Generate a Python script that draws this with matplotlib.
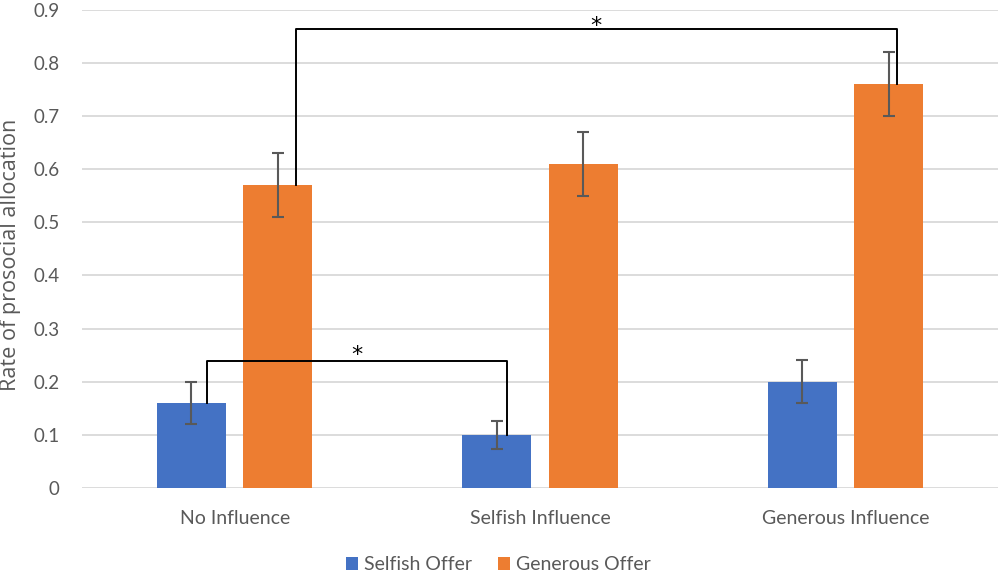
import numpy as np
import matplotlib
matplotlib.use("Agg")
import matplotlib.pyplot as plt

plt.rcParams['font.family'] = ['Lato', 'DejaVu Sans']

groups = ['No Influence', 'Selfish Influence', 'Generous Influence']
selfish = [0.16, 0.10, 0.20]
selfish_err = [0.04, 0.026, 0.04]
generous = [0.57, 0.61, 0.76]
generous_err = [0.06, 0.06, 0.06]

blue = '#4472C4'
orange = '#ED7D31'
grey = '#595959'

fig = plt.figure(figsize=(10, 5.74), dpi=100)
ax = fig.add_axes([0.082, 0.150, 0.916, 0.8326])

x = np.arange(len(groups))
w = 0.226
off = 0.1416

ax.bar(x - off, selfish, w, color=blue, label='Selfish Offer', zorder=2)
ax.bar(x + off, generous, w, color=orange, label='Generous Offer', zorder=2)
ax.errorbar(x - off, selfish, yerr=selfish_err, fmt='none', ecolor=grey,
            elinewidth=1.5, capsize=4.5, capthick=1.5, zorder=3)
ax.errorbar(x + off, generous, yerr=generous_err, fmt='none', ecolor=grey,
            elinewidth=1.5, capsize=4.5, capthick=1.5, zorder=3)

# significance brackets
px = 1 / 305.3
xl, xr = 0 - off + 16 * px, 1 - off + 10 * px
ax.plot([xl, xl, xr, xr], [selfish[0], 0.239, 0.239, selfish[1]],
        color='black', lw=1.4, zorder=4)
ax.text((xl + xr) / 2, 0.239, '*', ha='center', va='baseline', fontsize=16,
        family='DejaVu Sans')

xl, xr = 0 + off + 18 * px, 2 + off + 8 * px
ax.plot([xl, xl, xr, xr], [generous[0], 0.864, 0.864, generous[2]],
        color='black', lw=1.4, zorder=4)
ax.text((xl + xr) / 2, 0.859, '*', ha='center', va='baseline', fontsize=16,
        family='DejaVu Sans')

ax.set_xlim(-0.5, 2.5)
ax.set_ylim(0, 0.9)
ax.set_yticks(np.arange(0, 0.91, 0.1))
ax.set_yticklabels(['0'] + ['%.1f' % v for v in np.arange(0.1, 0.91, 0.1)])
ax.set_xticks(x)
ax.set_xticklabels(groups)
ax.tick_params(axis='both', length=0, colors=grey)
ax.tick_params(axis='x', pad=16, labelsize=14)
ax.tick_params(axis='y', pad=16, labelsize=13.5)
ax.yaxis.grid(True, color='#D9D9D9', lw=1.3, zorder=0)
for s in ax.spines.values():
    s.set_visible(False)
ax.set_ylabel('Rate of prosocial allocation', fontsize=15.6, color=grey,
              family='Open Sans')
ax.yaxis.set_label_coords(-0.0671, 0.487)

fig.legend(*ax.get_legend_handles_labels(), loc='center',
           bbox_to_anchor=(0.4985, 1 - 565 / 574), ncol=2, frameon=False,
           fontsize=14, labelcolor=grey, handlelength=0.62, handleheight=0.62,
           handletextpad=0.31, columnspacing=1.34)

fig.savefig('out.png', dpi=100)
